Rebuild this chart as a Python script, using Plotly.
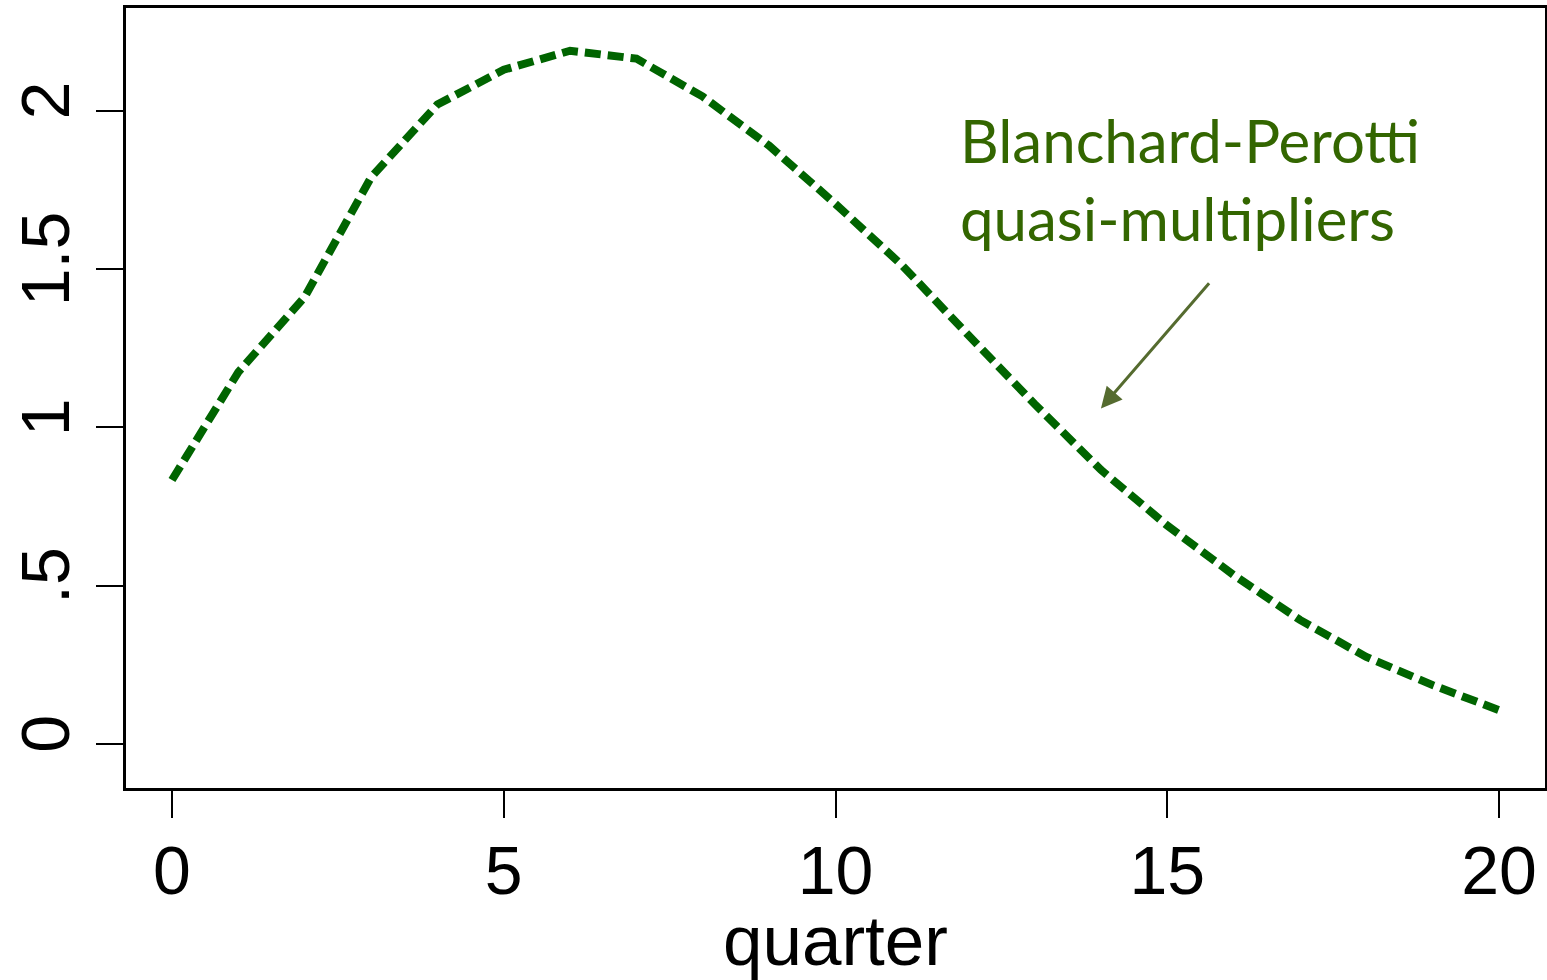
import plotly.graph_objects as go

quarters = list(range(21))
multipliers = [0.834, 1.175, 1.412, 1.79, 2.02, 2.13, 2.19, 2.165, 2.045, 1.89,
               1.706, 1.513, 1.292, 1.074, 0.866, 0.69, 0.534, 0.392, 0.275, 0.186, 0.107]
x_ticks = [0, 5, 10, 15, 20]
y_ticks = [0, 0.5, 1, 1.5, 2]
y_labels = ["0", ".5", "1", "1.5", "2"]
label_text = "Blanchard-Perotti<br>quasi-multipliers"
x_title = "quarter"

fig = go.Figure()
fig.add_trace(go.Scatter(
    x=quarters, y=multipliers, mode="lines",
    line=dict(color="#006400", width=8, dash="16px,7px"),
    showlegend=False, hoverinfo="skip"))

fig.add_annotation(
    x=14.0, y=1.06, ax=15.65, ay=1.46, xref="x", yref="y", axref="x", ayref="y",
    text="", showarrow=True, arrowhead=2, arrowsize=1.4, arrowwidth=3, arrowcolor="#556b2f")
fig.add_annotation(
    x=11.84, y=1.785, xref="x", yref="y", xanchor="left", yanchor="middle",
    text=label_text, showarrow=False, align="left",
    font=dict(family="Lato, Open Sans, sans-serif", size=60, color="#336600"))

axis_font = dict(family="Liberation Sans, Arial, sans-serif", size=68, color="black")
title_font = dict(family="Liberation Sans, Arial, sans-serif", size=71, color="black")
fig.add_annotation(
    x=0.5, y=-0.195, xref="paper", yref="paper", xanchor="center", yanchor="middle",
    text=x_title, showarrow=False, font=title_font)

fig.update_layout(
    width=1547, height=980,
    margin=dict(l=126, r=2, t=8, b=192),
    paper_bgcolor="white", plot_bgcolor="white",
    xaxis=dict(range=[-0.693, 20.693], tickvals=x_ticks, ticktext=[str(v) for v in x_ticks],
               showgrid=False, zeroline=False, showline=True, mirror=True, automargin=False,
               linecolor="black", linewidth=3, ticks="outside", ticklen=27, tickwidth=2,
               tickcolor="black", tickfont=axis_font, ticklabelstandoff=-6),
    yaxis=dict(range=[-0.139, 2.325], tickvals=y_ticks, ticktext=y_labels,
               showgrid=False, zeroline=False, showline=True, mirror=True, automargin=False,
               linecolor="black", linewidth=3, ticks="outside", ticklen=27, tickwidth=2,
               tickcolor="black", tickfont=axis_font, tickangle=-90, ticklabelstandoff=0),
)

fig.write_html("out.html", config={"displayModeBar": False},
               post_script="document.body.style.margin='0';document.body.style.overflow='hidden';")
